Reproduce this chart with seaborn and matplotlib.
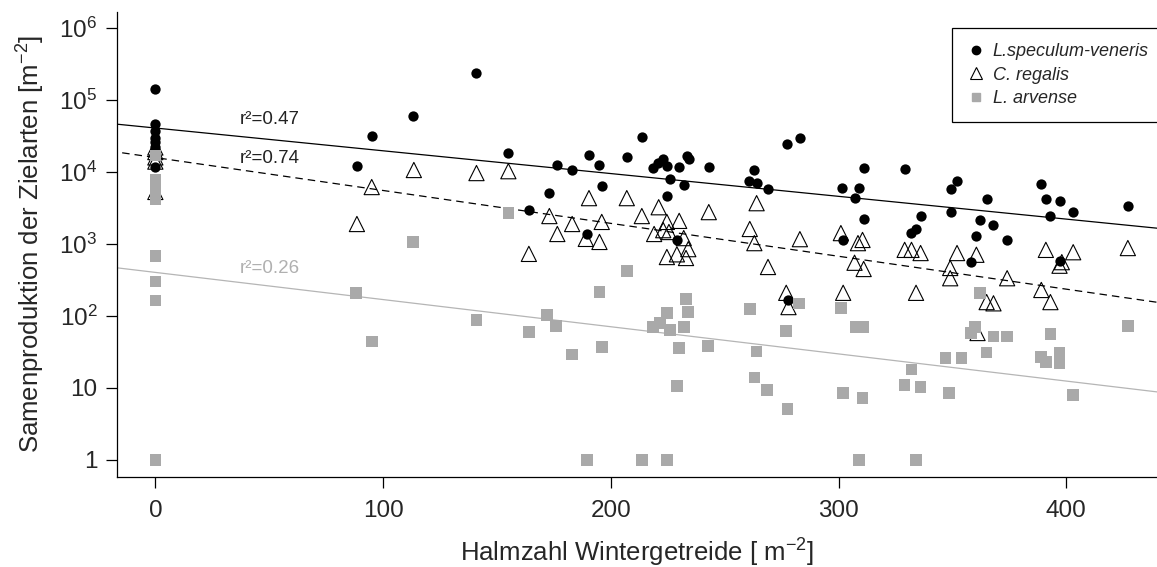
import numpy as np
import pandas as pd
import matplotlib
matplotlib.use('Agg')
import matplotlib.pyplot as plt
import seaborn as sns
from matplotlib.lines import Line2D

# L. speculum-veneris (filled circles)
spec_x = [0, 0, 0, 0, 0, 0, 0, 88.5, 95, 113, 141, 155, 164, 173, 176.5, 183, 189.5,
          190.4, 195, 196, 207, 213.6, 218.5, 220.7, 223, 224.6, 224.6, 226, 229, 230,
          232, 233.4, 234.3, 243, 260.5, 263, 264, 269, 277.3, 278, 283, 301.4, 302,
          307, 309, 311, 311, 329, 332, 334, 336, 349.5, 349.5, 352, 358, 360.5, 362,
          365, 368, 374, 389, 391, 393, 397, 397, 403, 427]
spec_y = [142000, 47000, 37000, 30000, 26000, 22000, 11800, 12100, 31600, 60000, 237000,
          18300, 2960, 5100, 12500, 10700, 1370, 17300, 12600, 6400, 16200, 30800, 11400,
          13300, 15200, 12100, 4640, 8000, 1140, 11700, 6600, 16600, 15200, 11700, 7500,
          10700, 7000, 5800, 24400, 167, 29600, 6000, 1140, 4350, 6000, 11400, 2220,
          11000, 1410, 1620, 2450, 5800, 2780, 7500, 560, 1290, 2140, 4200, 1830, 1140,
          6800, 4200, 2450, 4000, 580, 2780, 3370]

# C. regalis (open triangles)
creg_x = [0, 0, 0, 0, 0, 88.5, 95, 113.5, 141, 155, 164, 173, 176.5, 183, 189, 190.4,
          195, 196, 207, 213.6, 219, 221, 223, 224.6, 224.6, 225.5, 229, 230, 232, 233,
          234, 243, 261, 263, 264, 269, 277, 278, 283, 301, 302, 307, 308.5, 310.5, 311,
          329, 332, 334, 336, 349, 349, 352, 360.5, 361, 365, 368, 374, 389, 391, 393,
          397, 398, 403, 427]
creg_y = [5300, 14000, 16000, 19000, 22000, 1900, 6200, 10700, 9700, 10300, 730, 2450,
          1380, 1900, 1180, 4350, 1070, 2030, 4350, 2450, 1380, 3250, 1560, 2030, 660,
          1470, 720, 2100, 1210, 640, 850, 2780, 1620, 1030, 3700, 480, 210, 133, 1170,
          1420, 210, 550, 1030, 1140, 450, 830, 830, 210, 750, 465, 335, 750, 710, 58,
          156, 150, 335, 230, 830, 156, 500, 560, 770, 880]

# L. arvense (grey squares)
larv_x = [0, 0, 0, 0, 0, 0, 0, 0, 0, 88, 95, 113, 141, 155, 164, 172, 176, 183, 189.5,
          195, 196, 207, 213.6, 218.5, 221.5, 224.6, 224.6, 226, 229, 230, 232, 233, 234,
          242.6, 261, 263, 264, 268.5, 277, 277.6, 282.5, 301, 302, 307.5, 309, 310.5,
          311, 329, 332, 334, 336, 347, 348.5, 354, 358, 360, 362, 365, 368, 374, 389,
          391, 393, 397, 397, 403, 427]
larv_y = [17000, 7800, 6300, 5100, 4200, 680, 300, 165, 1, 210, 44, 1070, 88, 2700, 60,
          103, 73, 29, 1, 215, 37, 420, 1, 71, 80, 110, 1, 64, 10.7, 36, 71, 173, 113, 38,
          124, 14, 32, 9.4, 62, 5.1, 150, 129, 8.5, 70, 1, 7.3, 70, 11, 18, 1, 10.3, 26,
          8.5, 26, 58, 70, 210, 31, 52, 52, 27, 23, 56, 31, 22, 8, 73]

# regression lines: log10(y) = a + b * x
fit_a = [4.613, 4.202, 2.606]
fit_b = [-0.003166, -0.004573, -0.003777]
fit_r2 = ['r²=0.47', 'r²=0.74', 'r²=0.26']
label_y = [54500, 15600, 464]

legend_labels = ['L.speculum-veneris', 'C. regalis', 'L. arvense']
yticks = [1, 10, 100, 1e3, 1e4, 1e5, 1e6]
ytick_labels = ['1', '10', '$10^2$', '$10^3$', '$10^4$', '$10^5$', '$10^6$']

sns.set_theme(style='ticks')
plt.rcParams['font.family'] = ['Liberation Sans', 'DejaVu Sans']
plt.rcParams['mathtext.default'] = 'regular'

grey = '#a9a9a9'
fig = plt.figure(figsize=(11.57, 5.67), dpi=100)
ax = fig.add_axes([0.101, 0.159, 0.899, 0.82])

df_c = pd.DataFrame({'x': creg_x, 'y': creg_y})
df_s = pd.DataFrame({'x': spec_x, 'y': spec_y})
df_l = pd.DataFrame({'x': larv_x, 'y': larv_y})

sns.scatterplot(data=df_c, x='x', y='y', marker='^', s=120, facecolor='none',
                edgecolor='black', linewidth=0.8, ax=ax, zorder=3)
sns.scatterplot(data=df_s, x='x', y='y', marker='o', s=55, color='black',
                edgecolor='black', linewidth=0, ax=ax, zorder=4)
sns.scatterplot(data=df_l, x='x', y='y', marker='s', s=70, color=grey,
                edgecolor='none', linewidth=0, ax=ax, zorder=5)

xs = np.linspace(-20, 445, 50)
styles = [dict(color='black', linestyle='-'),
          dict(color='black', linestyle=(0, (6, 4))),
          dict(color='#b5b5b5', linestyle='-')]
for a, b, st in zip(fit_a, fit_b, styles):
    sns.lineplot(x=xs, y=10 ** (a + b * xs), ax=ax, lw=0.9, zorder=2, **st)

txt_cols = ['#222222', '#222222', '#b0b0b0']
for lab, ly, c in zip(fit_r2, label_y, txt_cols):
    ax.text(37, ly, lab, fontsize=13.5, color=c, va='center', ha='left')

ax.set_yscale('log')
ax.set_xlim(-16.9, 439.8)
ax.set_ylim(10 ** -0.236, 10 ** 6.227)
ax.set_yticks(yticks)
ax.set_yticklabels(ytick_labels)
ax.yaxis.set_minor_locator(matplotlib.ticker.NullLocator())
ax.set_xticks([0, 100, 200, 300, 400])
ax.tick_params(axis='both', labelsize=17.5, length=8, width=0.9, color='black',
               direction='out', pad=6)
ax.tick_params(axis='x', pad=9)
for sp in ['top', 'right']:
    ax.spines[sp].set_visible(False)
for sp in ['left', 'bottom']:
    ax.spines[sp].set_color('black')
    ax.spines[sp].set_linewidth(0.9)

ax.set_xlabel('Halmzahl Wintergetreide [ m$^{-2}$]', fontsize=18.5, labelpad=10)
ax.set_ylabel('Samenproduktion der Zielarten [m$^{-2}$]', fontsize=18.5, labelpad=9)

handles = [Line2D([], [], marker='o', color='black', linestyle='none', markersize=6),
           Line2D([], [], marker='^', markerfacecolor='none', markeredgecolor='black',
                  linestyle='none', markersize=8, markeredgewidth=0.8),
           Line2D([], [], marker='s', color=grey, linestyle='none', markersize=6)]
leg = ax.legend(handles, legend_labels, loc='upper left', bbox_to_anchor=(0.803, 0.966),
                frameon=True, fancybox=False, framealpha=1, borderaxespad=0,
                edgecolor='black', labelspacing=0.36, handletextpad=0.4,
                handlelength=1.0, borderpad=0.85, prop={'style': 'italic', 'size': 13})
leg.get_frame().set_linewidth(0.9)

fig.savefig('out.png', dpi=100)
